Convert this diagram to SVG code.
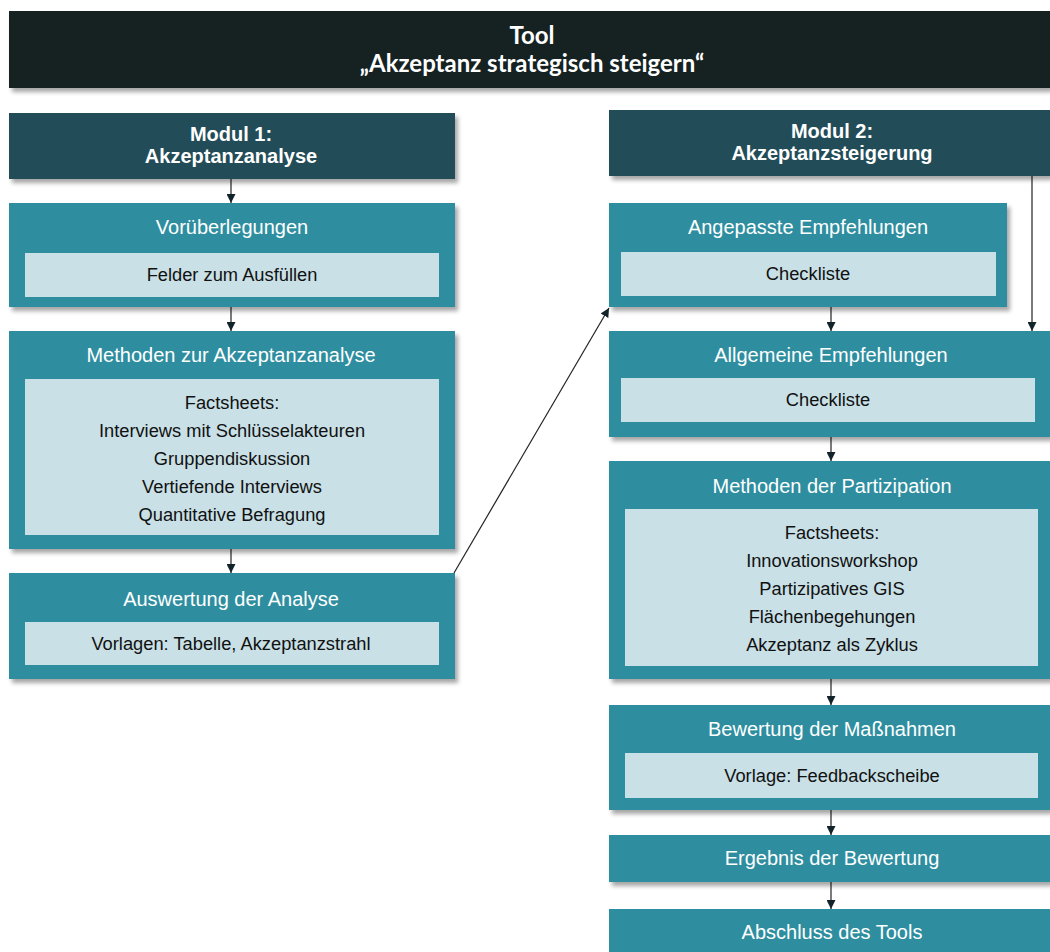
<svg xmlns="http://www.w3.org/2000/svg" width="1050" height="952" viewBox="0 0 1050 952">
<style>
.title{fill:#122024}
.mod{fill:#244e58}
.box{fill:#2e8ea0}
.inner{fill:#c8e0e6}
.tt{font-family:Lato,"Open Sans",sans-serif;font-weight:bold;font-size:24px;fill:#ffffff;text-anchor:middle}
.mt{font-family:"Liberation Sans",Arial,sans-serif;font-weight:bold;font-size:20px;fill:#ffffff;text-anchor:middle}
.bt{font-family:"Liberation Sans",Arial,sans-serif;font-size:20px;fill:#ffffff;text-anchor:middle}
.it{font-family:"Liberation Sans",Arial,sans-serif;font-size:18.3px;fill:#111111;text-anchor:middle}
.con{stroke:#222;stroke-width:1.2;fill:none;marker-end:url(#ah)}
</style>
<defs>
<filter id="sh" x="-5%" y="-10%" width="112%" height="130%">
<feDropShadow dx="3" dy="4" stdDeviation="2" flood-color="#000" flood-opacity="0.35"/>
</filter>
<marker id="ah" viewBox="0 0 10 10" refX="10" refY="5" markerWidth="9" markerHeight="9" markerUnits="userSpaceOnUse" orient="auto">
<path d="M0,0 L10,5 L0,10 z" fill="#13232a"/>
</marker>
</defs>
<rect width="1050" height="952" fill="#ffffff"/>

<g id="title">
<rect class="title" x="9" y="11" width="1041" height="77" filter="url(#sh)"/>
<text class="tt" x="532" y="44">Tool</text>
<text class="tt" x="532" y="72">„Akzeptanz strategisch steigern“</text>
</g>

<g id="connectors">
<line class="con" x1="231" y1="179" x2="231" y2="203"/>
<line class="con" x1="231" y1="307" x2="231" y2="331"/>
<line class="con" x1="231" y1="549" x2="231" y2="573"/>
<line class="con" x1="454" y1="573" x2="609" y2="308"/>
<line class="con" x1="1032" y1="176" x2="1032" y2="331"/>
<line class="con" x1="831" y1="307" x2="831" y2="331"/>
<line class="con" x1="831" y1="437" x2="831" y2="461"/>
<line class="con" x1="831" y1="679" x2="831" y2="705"/>
<line class="con" x1="831" y1="810" x2="831" y2="835"/>
<line class="con" x1="831" y1="882" x2="831" y2="909"/>
</g>

<g id="modul1">
<rect class="mod" x="9" y="113" width="446" height="66" filter="url(#sh)"/>
<text class="mt" x="231" y="141">Modul 1:</text>
<text class="mt" x="231" y="163">Akzeptanzanalyse</text>
</g>

<g id="vorueberlegungen">
<rect class="box" x="9" y="203" width="446" height="104" filter="url(#sh)"/>
<text class="bt" x="232" y="234">Vorüberlegungen</text>
<rect class="inner" x="25" y="253" width="414" height="44"/>
<text class="it" x="232" y="281">Felder zum  Ausfüllen</text>
</g>

<g id="methoden-analyse">
<rect class="box" x="9" y="331" width="446" height="218" filter="url(#sh)"/>
<text class="bt" x="231" y="362">Methoden zur Akzeptanzanalyse</text>
<rect class="inner" x="25" y="379" width="414" height="156"/>
<text class="it" x="232" y="409">Factsheets:</text>
<text class="it" x="232" y="437">Interviews mit Schlüsselakteuren</text>
<text class="it" x="232" y="465">Gruppendiskussion</text>
<text class="it" x="232" y="493">Vertiefende Interviews</text>
<text class="it" x="232" y="521">Quantitative Befragung</text>
</g>

<g id="auswertung">
<rect class="box" x="9" y="573" width="446" height="106" filter="url(#sh)"/>
<text class="bt" x="231" y="606">Auswertung  der Analyse</text>
<rect class="inner" x="25" y="622" width="414" height="43"/>
<text class="it" x="231" y="650">Vorlagen: Tabelle, Akzeptanzstrahl</text>
</g>

<g id="modul2">
<rect class="mod" x="609" y="110" width="441" height="66" filter="url(#sh)"/>
<text class="mt" x="832" y="138">Modul 2:</text>
<text class="mt" x="832" y="160">Akzeptanzsteigerung</text>
</g>

<g id="angepasste">
<rect class="box" x="609" y="203" width="398" height="104" filter="url(#sh)"/>
<text class="bt" x="808" y="234">Angepasste Empfehlungen</text>
<rect class="inner" x="621" y="252" width="375" height="44"/>
<text class="it" x="808" y="280">Checkliste</text>
</g>

<g id="allgemeine">
<rect class="box" x="609" y="331" width="441" height="106" filter="url(#sh)"/>
<text class="bt" x="831" y="362">Allgemeine  Empfehlungen</text>
<rect class="inner" x="621" y="378" width="414" height="44"/>
<text class="it" x="828" y="406">Checkliste</text>
</g>

<g id="methoden-partizipation">
<rect class="box" x="609" y="461" width="441" height="218" filter="url(#sh)"/>
<text class="bt" x="832" y="493">Methoden der Partizipation</text>
<rect class="inner" x="625" y="509" width="413" height="157"/>
<text class="it" x="832" y="539">Factsheets:</text>
<text class="it" x="832" y="567">Innovationsworkshop</text>
<text class="it" x="832" y="595">Partizipatives GIS</text>
<text class="it" x="832" y="623">Flächenbegehungen</text>
<text class="it" x="832" y="651">Akzeptanz  als Zyklus</text>
</g>

<g id="bewertung">
<rect class="box" x="609" y="705" width="441" height="105" filter="url(#sh)"/>
<text class="bt" x="832" y="736">Bewertung  der Maßnahmen</text>
<rect class="inner" x="625" y="753" width="413" height="45"/>
<text class="it" x="832" y="782">Vorlage: Feedbackscheibe</text>
</g>

<g id="ergebnis">
<rect class="box" x="609" y="835" width="441" height="47" filter="url(#sh)"/>
<text class="bt" x="832" y="865">Ergebnis der Bewertung</text>
</g>

<g id="abschluss">
<rect class="box" x="609" y="909" width="441" height="43"/>
<text class="bt" x="832" y="939">Abschluss des Tools</text>
</g>
</svg>
